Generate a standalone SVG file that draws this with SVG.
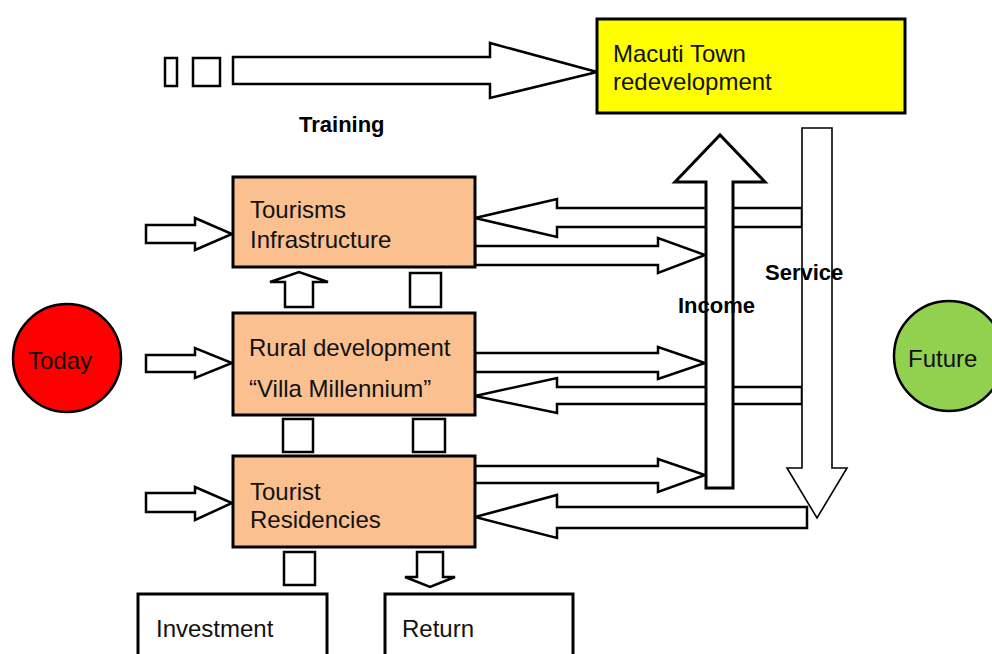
<svg xmlns="http://www.w3.org/2000/svg" width="992" height="654" viewBox="0 0 992 654">
  <style>
    .box { stroke: #000; stroke-width: 3; }
    .stage { fill: #FAC08F; }
    .goal { fill: #FFFF00; }
    .plain { fill: #fff; }
    .txt { font-family: "Liberation Sans", Arial, sans-serif; font-size: 24px; fill: #111; }
    .lbl { font-family: "Liberation Sans", Arial, sans-serif; font-size: 22px; font-weight: bold; fill: #000; }
    .arrow { fill: #fff; stroke: #000; stroke-width: 2.5; stroke-linejoin: miter; }
    .thin { stroke-width: 1.6; }
    .thick { stroke-width: 3; }
  </style>

  <rect width="992" height="654" fill="#fff"/>

  <!-- flow arrows between the stages -->
  <g id="connectors">
    <!-- top: training path into the town redevelopment -->
    <rect class="arrow" x="165" y="58" width="12" height="28"/>
    <rect class="arrow" x="193" y="58" width="27" height="28"/>
    <polygon class="arrow" points="233,57 490,57 490,43 597,72 490,98 490,84 233,84"/>

    <!-- inputs from the left -->
    <polygon class="arrow" points="146,225 195,225 195,218 232,234 195,250 195,243 146,243"/>
    <polygon class="arrow" points="146,355 195,355 195,348 232,363 195,378 195,372 146,372"/>
    <polygon class="arrow" points="146,493 195,493 195,487 232,503 195,520 195,512 146,512"/>

    <!-- links between stacked stages -->
    <polygon class="arrow" points="285,307 285,282 270,282 299,272 328,282 313,282 313,307"/>
    <rect class="arrow" x="410" y="273" width="31" height="34"/>
    <rect class="arrow" x="283" y="419" width="30" height="33"/>
    <rect class="arrow" x="413" y="419" width="32" height="33"/>
    <rect class="arrow" x="284" y="552" width="31" height="33"/>
    <polygon class="arrow" points="417,552 443,552 443,577 455,577 430,587 405,577 417,577"/>

    <!-- income out of each stage, service back into each stage -->
    <polygon class="arrow" points="802,208 557,208 557,199 475,218 557,237 557,227 802,227"/>
    <polygon class="arrow" points="475,246 658,246 658,238 705,255 658,273 658,265 475,265"/>
    <polygon class="arrow" points="475,353 658,353 658,347 705,363 658,379 658,372 475,372"/>
    <polygon class="arrow" points="802,387 557,387 557,378 475,396 557,413 557,404 802,404"/>
    <polygon class="arrow" points="475,466 658,466 658,459 705,475 658,492 658,483 475,483"/>
    <polygon class="arrow" points="807,507 557,507 557,495 475,517 557,538 557,528 807,528"/>

    <!-- vertical trunks -->
    <polygon class="arrow thick" points="706,488 706,182 675,182 720,135 765,182 733,182 733,488"/>
    <polygon class="arrow thin" points="802,128 832,128 832,468 847,468 817,518 787,468 802,468"/>

    <text class="lbl" x="299" y="132">Training</text>
    <text class="lbl" x="765" y="280">Service</text>
    <text class="lbl" x="678" y="313">Income</text>
  </g>

  <g id="macuti">
    <rect class="box goal" x="597" y="19" width="308" height="94"/>
    <text class="txt" x="613" y="62">Macuti Town</text>
    <text class="txt" x="613" y="90">redevelopment</text>
  </g>

  <g id="infrastructure">
    <rect class="box stage" x="233" y="177" width="242" height="90"/>
    <text class="txt" x="250" y="218">Tourisms</text>
    <text class="txt" x="250" y="248">Infrastructure</text>
  </g>

  <g id="rural">
    <rect class="box stage" x="233" y="313" width="242" height="102"/>
    <text class="txt" x="249" y="356">Rural development</text>
    <text class="txt" x="249" y="397">“Villa Millennium”</text>
  </g>

  <g id="residencies">
    <rect class="box stage" x="233" y="456" width="242" height="91"/>
    <text class="txt" x="250" y="500">Tourist</text>
    <text class="txt" x="250" y="528">Residencies</text>
  </g>

  <g id="investment">
    <rect class="box plain" x="138" y="594" width="189" height="70"/>
    <text class="txt" x="156" y="637" fill="#222">Investment</text>
  </g>

  <g id="return">
    <rect class="box plain" x="385" y="594" width="188" height="70"/>
    <text class="txt" x="402" y="637" fill="#222">Return</text>
  </g>

  <g id="today">
    <circle cx="67" cy="358" r="54" fill="#FF0000" stroke="#000" stroke-width="2.5"/>
    <text class="txt" x="28" y="369">Today</text>
  </g>

  <g id="future">
    <circle cx="949" cy="356" r="55" fill="#92D050" stroke="#000" stroke-width="2.5"/>
    <text class="txt" x="908" y="367">Future</text>
  </g>
</svg>
